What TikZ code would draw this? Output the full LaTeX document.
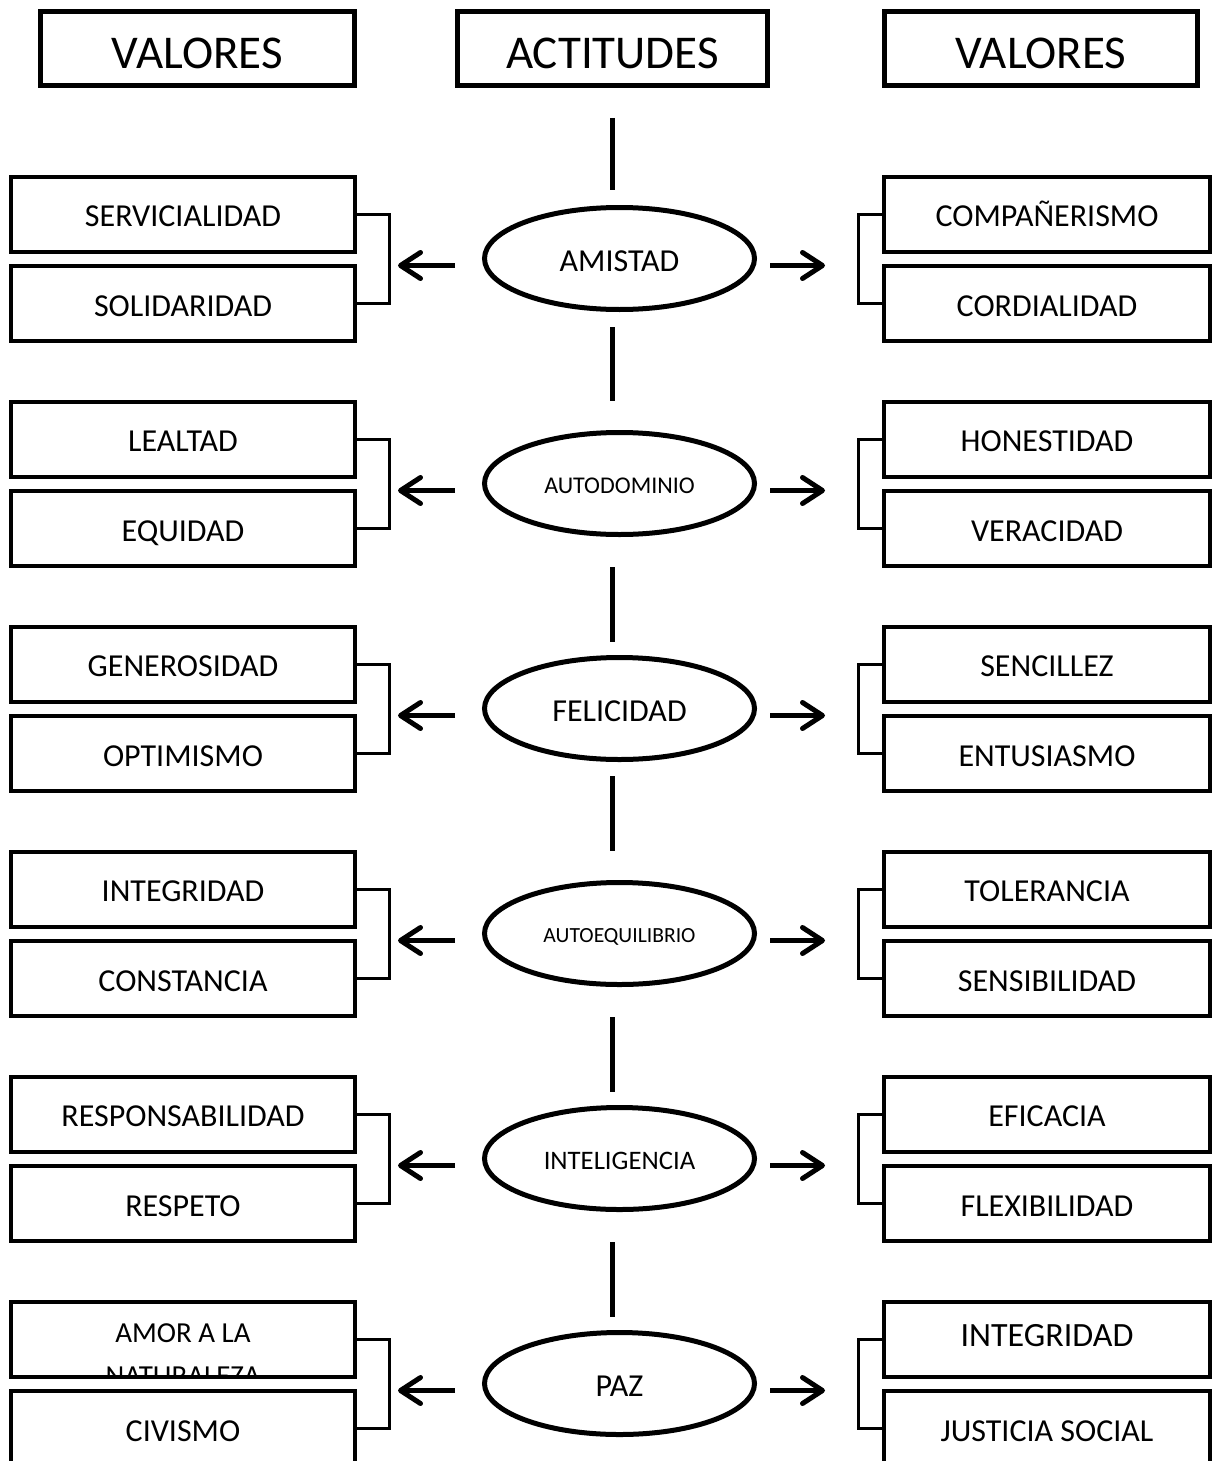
\documentclass[tikz,border=0pt]{standalone}
\usepackage{fontspec}
\setmainfont{Carlito}
\usetikzlibrary{arrows.meta,shapes.geometric}
\begin{document}
\begin{tikzpicture}[x=1pt,y=-1pt,
  hdrbox/.style={draw, line width=5pt, minimum height=74pt, inner sep=0pt, text height=41pt, text depth=0pt, font=\fontsize{47}{56}\selectfont},
  valbox/.style={draw, line width=4pt, minimum height=75pt, inner sep=0pt, text height=25.2pt, text depth=0pt, font=\fontsize{32}{38}\selectfont},
  lbox/.style={valbox, minimum width=344pt},
  rbox/.style={valbox, minimum width=326pt},
  ell/.style={draw, ellipse, line width=5pt, minimum width=270pt, minimum height=102pt, inner sep=0pt, text depth=0pt},
  vline/.style={line width=5pt},
  arr/.style={line width=5pt, -{Straight Barb[length=20pt,width=26pt,round]}},
  brk/.style={line width=3pt}]
\useasboundingbox[fill=white] (0,0) rectangle (1213,1461);

% headers
\node[hdrbox, minimum width=314pt] (hl) at (197.5,48.5) {VALORES};
\node[hdrbox, minimum width=310pt] (act) at (612.5,48.5) {ACTITUDES};
\node[hdrbox, minimum width=313pt] (hr) at (1041,48.5) {VALORES};

% central vertical segments
\foreach \a/\b in {118/190,327/401,567/642,776/851,1017/1092,1242/1317}
  \draw[vline] (act.south |- 0,\a) -- (act.south |- 0,\b);

% rows 1-5
\foreach \k/\et/\ef/\th/\la/\lb/\ra/\rb in {
  0/AMISTAD/32/25.2/SERVICIALIDAD/SOLIDARIDAD/COMPAÑERISMO/CORDIALIDAD,
  1/AUTODOMINIO/24/20.2/LEALTAD/EQUIDAD/HONESTIDAD/VERACIDAD,
  2/FELICIDAD/32/25.2/GENEROSIDAD/OPTIMISMO/SENCILLEZ/ENTUSIASMO,
  3/AUTOEQUILIBRIO/21.6/18.7/INTEGRIDAD/CONSTANCIA/TOLERANCIA/SENSIBILIDAD,
  4/INTELIGENCIA/26.7/21.9/RESPONSABILIDAD/RESPETO/EFICACIA/FLEXIBILIDAD}{
  \pgfmathsetmacro\dy{225*\k}
  \node[ell, text height=\th pt, font=\fontsize{\ef}{\ef}\selectfont] (e\k) at (619.5,{258.5+\dy}) {\et};
  \node[lbox] (la\k) at (183,{214+\dy}) {\la};
  \node[lbox] (lb\k) at (183,{303.5+\dy}) {\lb};
  \node[rbox] (ra\k) at (1047,{214+\dy}) {\ra};
  \node[rbox] (rb\k) at (1047,{303.5+\dy}) {\rb};
  \draw[brk] (la\k.east) -- ++(32,0) |- (lb\k.east);
  \draw[brk] (ra\k.west) -- ++(-24,0) |- (rb\k.west);
  \draw[arr] ([xshift=-27pt,yshift=-7pt]e\k.west) -- ([xshift=-84pt,yshift=-7pt]e\k.west);
  \draw[arr] ([xshift=13pt,yshift=-7pt]e\k.east) -- ([xshift=68pt,yshift=-7pt]e\k.east);
}

% row 6
\node[ell, text height=25.2pt, font=\fontsize{32}{32}\selectfont] (e5) at (619.5,1383.5) {PAZ};
\node[lbox] (la5) at (183,1339) {};
\begin{scope}
  \clip (13,1303.5) rectangle (353,1374.5);
  \node[align=center, anchor=north, inner sep=0pt, font=\fontsize{29}{43}\selectfont] (amor) at (183,1323) {AMOR A LA\\NATURALEZA};
\end{scope}
\node[lbox] (lb5) at (183,1428.5) {CIVISMO};
\node[rbox, text height=21.5pt, text depth=6pt, font=\fontsize{34}{40}\selectfont] (ra5) at (1047,1339) {INTEGRIDAD};
\node[rbox] (rb5) at (1047,1428.5) {JUSTICIA SOCIAL};
\draw[brk] (la5.east) -- ++(32,0) |- (lb5.east);
\draw[brk] (ra5.west) -- ++(-24,0) |- (rb5.west);
\draw[arr] ([xshift=-27pt,yshift=-7pt]e5.west) -- ([xshift=-84pt,yshift=-7pt]e5.west);
\draw[arr] ([xshift=13pt,yshift=-7pt]e5.east) -- ([xshift=68pt,yshift=-7pt]e5.east);
\end{tikzpicture}
\end{document}
